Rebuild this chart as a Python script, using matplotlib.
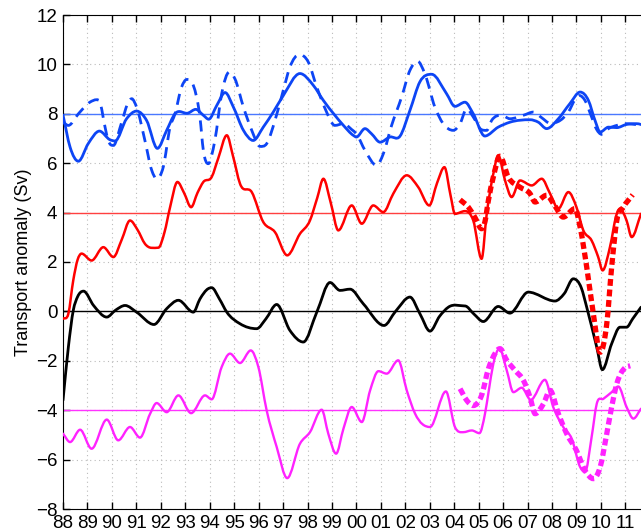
import matplotlib
matplotlib.use("Agg")
import matplotlib.pyplot as plt
from matplotlib.path import Path
from matplotlib.patches import PathPatch

plt.rcParams['font.family'] = ['Liberation Sans', 'DejaVu Sans']

# x in years since 1900
blue_x = [88.0, 88.29, 88.63, 89.03, 89.49, 89.92, 90.13, 90.6, 91.01, 91.42, 91.86, 92.24, 92.58, 93.12,
          93.43, 93.74, 93.96, 94.29, 94.63, 94.97, 95.38, 95.78, 96.19, 96.6, 97.01, 97.69, 98.24, 98.65,
          99.12, 99.47, 99.87, 100.0, 100.35, 100.62, 100.97, 101.37, 101.78, 102.19, 102.6, 103.08, 103.69,
          104.03, 104.44, 104.78, 105.25, 105.8, 106.28, 107.1, 107.44, 107.78, 108.26, 108.73, 109.15,
          109.49, 109.76, 109.97, 110.31, 110.65, 111.05, 111.46, 111.8]
blue_y = [7.95, 6.65, 6.08, 6.79, 7.30, 6.95, 6.9, 7.80, 8.11, 7.73, 6.60, 7.33, 8.0, 8.03,
          8.18, 7.94, 7.78, 8.34, 8.86, 8.27, 7.33, 6.92, 7.46, 8.07, 8.74, 9.63, 9.15, 8.54,
          7.94, 7.53, 7.13, 7.06, 7.40, 7.19, 6.85, 7.06, 7.09, 8.14, 9.3, 9.60, 8.81,
          8.30, 8.47, 8.0, 7.1, 7.46, 7.66, 7.76, 7.66, 7.40, 7.80, 8.41, 8.88,
          8.54, 7.73, 7.26, 7.46, 7.44, 7.57, 7.6, 7.52]

blue_dash_x = [88.0, 88.22, 88.63, 89.1, 89.37, 89.51, 89.72, 89.85, 90.06, 90.4, 90.67, 90.81, 91.01,
               91.35, 91.63, 91.83, 92.1, 92.38, 92.58, 92.85, 93.06, 93.33, 93.6, 93.74, 93.94, 94.21,
               94.49, 94.8, 95.03, 95.38, 95.72, 96.06, 96.33, 96.67, 97.01, 97.28, 97.67, 98.03, 98.38,
               98.72, 99.12, 99.47, 99.81, 100.0, 100.35, 100.83, 101.1, 101.44, 101.85, 102.19, 102.5,
               102.8, 103.21, 103.55, 103.96, 104.24, 104.51, 104.78, 105.06, 105.33, 105.53, 105.94,
               106.28, 106.83, 107.24, 107.58, 107.92, 108.33, 108.67, 108.94, 109.12, 109.35, 109.62,
               109.83, 110.03, 110.31, 110.65, 111.05, 111.46, 111.8]
blue_dash_y = [7.66, 7.53, 8.0, 8.47, 8.57, 8.47, 7.46, 6.92, 6.72, 7.66, 8.47, 8.61, 8.27,
               6.92, 5.71, 5.37, 5.84, 7.46, 8.0, 9.08, 9.39, 9.15, 7.87, 6.52, 5.98, 6.92,
               8.81, 9.69, 9.42, 8.27, 7.33, 6.68, 6.79, 7.73, 8.95, 9.89, 10.40, 10.1, 9.08,
               8.21, 7.53, 7.6, 7.36, 7.19, 6.52, 5.91, 6.38, 7.53, 8.68, 9.76, 10.13,
               9.62, 8.27, 7.60, 7.33, 7.60, 8.2, 7.87, 7.40, 7.33, 7.73, 7.94,
               7.80, 7.94, 8.07, 7.84, 7.62, 7.73, 8.07, 8.57, 8.74, 8.54, 7.87,
               7.36, 7.17, 7.40, 7.53, 7.60, 7.56, 7.52]

red_x = [88.0, 88.22, 88.42, 88.6, 88.76, 89.17, 89.65, 90.06, 90.4, 90.74, 91.05, 91.35, 91.9, 92.15,
         92.38, 92.68, 92.95, 93.24, 93.5, 93.74, 94.08, 94.35, 94.7, 94.95, 95.24, 95.72, 96.19, 96.67,
         97.17, 97.69, 98.1, 98.4, 98.65, 98.95, 99.26, 99.81, 100.22, 100.69, 101.1, 101.51, 102.06,
         102.53, 102.98, 103.3, 103.6, 103.85, 104.03, 104.44, 104.78, 105.12, 105.33, 105.6, 105.8,
         106.08, 106.35, 106.69, 107.17, 107.58, 107.92, 108.26, 108.67, 109.0, 109.28, 109.62, 109.89,
         110.07, 110.37, 110.65, 110.78, 111.05, 111.26, 111.64]
red_y = [-0.30, -0.09, 1.26, 2.1, 2.34, 2.06, 2.60, 2.20, 2.9, 3.68, 3.3, 2.74, 2.58, 3.2,
         4.22, 5.24, 4.8, 4.22, 4.8, 5.24, 5.44, 6.2, 7.13, 6.3, 5.17, 4.83, 3.62, 3.21,
         2.27, 3.14, 3.68, 4.6, 5.37, 4.4, 3.28, 4.29, 3.55, 4.29, 4.02, 4.77, 5.51,
         5.03, 4.29, 5.2, 5.84, 4.7, 3.95, 4.06, 3.68, 2.13, 3.95, 5.57, 6.32,
         5.30, 4.63, 5.30, 5.10, 5.37, 4.77, 4.16, 4.83, 4.22, 3.28, 2.87, 2.2,
         1.66, 2.6, 3.95, 4.16, 3.68, 3.01, 3.95]

red_dot_x = [104.24, 104.58, 104.85, 105.12, 105.25, 105.4, 105.6, 105.87, 106.21, 106.69, 107.1, 107.31,
             107.78, 108.1, 108.46, 108.94, 109.15, 109.42, 109.69, 109.97, 110.24, 110.44, 110.65,
             110.92, 111.3]
red_dot_y = [4.52, 4.22, 3.8, 3.35, 3.6, 4.5, 5.44, 6.28, 5.44, 5.03, 4.77, 4.43,
             4.70, 4.3, 3.82, 4.16, 3.41, 1.79, -0.09, -1.65, -0.5, 1.79, 3.68,
             4.22, 4.72]

black_x = [88.0, 88.22, 88.42, 88.6, 88.84, 89.25, 89.79, 90.15, 90.54, 91.01, 91.72, 92.24, 92.72, 93.33,
           93.6, 93.94, 94.08, 94.4, 94.7, 95.24, 95.92, 96.3, 96.74, 97.28, 97.83, 98.38, 98.92, 99.33,
           99.74, 100.28, 101.13, 101.6, 102.19, 102.6, 103.01, 103.4, 103.76, 104.44, 104.8, 105.19,
           105.8, 106.28, 107.03, 108.12, 108.5, 108.87, 109.2, 109.42, 109.83, 110.06, 110.44, 110.78,
           111.05, 111.3, 111.64]
black_y = [-3.60, -1.44, 0.04, 0.6, 0.82, 0.24, -0.23, 0.05, 0.24, -0.03, -0.53, 0.11, 0.45, -0.03,
           0.5, 0.92, 0.96, 0.5, -0.03, -0.50, -0.70, -0.3, 0.28, -0.77, -1.24, -0.03, 1.17, 0.85,
           0.90, 0.31, -0.57, 0.0, 0.58, -0.1, -0.80, -0.2, 0.17, 0.22, -0.1, -0.41,
           0.20, -0.07, 0.78, 0.42, 0.72, 1.32, 0.95, 0.17, -1.45, -2.36, -1.31, -0.64,
           -0.64, -0.3, 0.17]

mag_x = [88.0, 88.29, 88.7, 89.17, 89.79, 90.26, 90.74, 91.15, 91.56, 91.83, 92.24, 92.72, 93.24, 93.81,
         94.08, 94.49, 94.83, 95.24, 95.68, 95.99, 96.33, 96.74, 97.17, 97.69, 98.1, 98.58, 98.85, 99.17,
         99.47, 99.81, 100.22, 100.56, 100.9, 101.24, 101.71, 102.06, 102.4, 103.01, 103.66, 104.03,
         104.37, 104.72, 105.03, 105.26, 105.4, 105.6, 105.85, 106.15, 106.42, 106.76, 107.13, 107.71,
         108.05, 108.46, 108.81, 109.15, 109.35, 109.62, 109.83, 110.1, 110.44, 110.71, 111.05, 111.33,
         111.64]
mag_y = [-4.95, -5.29, -4.79, -5.56, -4.38, -5.22, -4.68, -5.11, -4.15, -3.71, -4.08, -3.40, -4.12, -3.40,
         -3.56, -2.25, -1.71, -2.09, -1.58, -2.25, -4.01, -5.49, -6.75, -5.36, -4.89, -3.98, -4.95, -5.76,
         -4.75, -3.87, -4.48, -3.20, -2.42, -2.52, -1.98, -3.20, -4.14, -4.68, -3.24, -4.68,
         -4.89, -4.82, -4.93, -4.14, -3.3, -2.12, -1.51, -2.39, -3.27, -3.09, -3.58, -2.77,
         -3.87, -4.68, -5.16, -6.30, -6.51, -5.09, -3.74, -3.54, -3.27, -3.04, -3.87, -4.34,
         -3.94]

mag_dot_x = [104.24, 104.51, 104.78, 105.12, 105.4, 105.53, 105.87, 106.15, 106.5, 106.83, 107.1, 107.31,
             107.65, 107.92, 108.26, 108.6, 109.0, 109.35, 109.69, 109.97, 110.24, 110.44, 110.65,
             110.99, 111.2]
mag_dot_y = [-3.13, -3.60, -3.81, -3.40, -2.32, -1.98, -1.51, -1.98, -2.4, -2.79, -3.47, -4.14,
             -3.74, -3.20, -4.14, -4.95, -5.63, -6.44, -6.77, -6.30, -4.95, -3.87, -2.93,
             -2.28, -2.2]

ref_levels = [8, 4, 0, -4]
year_ticks = list(range(88, 112))
year_labels = ['%02d' % (y % 100) for y in year_ticks]
y_ticks = list(range(-8, 13, 2))

BLUE = '#0d45f5'
RED = '#ff0000'
MAG = '#ff22ff'


def smooth_curve(ax, xs, ys, **kw):
    """Draw a curve through the points as a smooth cubic Bezier path."""
    n = len(xs)
    h = [xs[i + 1] - xs[i] for i in range(n - 1)]
    d = [(ys[i + 1] - ys[i]) / h[i] for i in range(n - 1)]
    m = [0.0] * n
    m[0] = d[0]
    m[-1] = d[-1]
    for i in range(1, n - 1):
        if d[i - 1] * d[i] <= 0:
            m[i] = 0.0
        else:
            m[i] = (d[i - 1] * h[i] + d[i] * h[i - 1]) / (h[i - 1] + h[i])
    verts = [(xs[0], ys[0])]
    codes = [Path.MOVETO]
    for i in range(n - 1):
        verts.append((xs[i] + h[i] / 3, ys[i] + m[i] * h[i] / 3))
        verts.append((xs[i + 1] - h[i] / 3, ys[i + 1] - m[i + 1] * h[i] / 3))
        verts.append((xs[i + 1], ys[i + 1]))
        codes += [Path.CURVE4] * 3
    patch = PathPatch(Path(verts, codes), fill=False, **kw)
    ax.add_patch(patch)
    return patch


fig = plt.figure(figsize=(6.41, 5.31), dpi=100)
ax = fig.add_axes([63 / 641, 22 / 531, 582 / 641, 494 / 531])

ref_colors = ['#4a78ff', '#ff4040', '#000000', '#ff33ff']
for lvl, c in zip(ref_levels, ref_colors):
    ax.axhline(lvl, color=c, lw=1.0, zorder=2)

smooth_curve(ax, black_x, black_y, edgecolor='black', lw=2.0, zorder=3, capstyle='round', joinstyle='round')
smooth_curve(ax, mag_x, mag_y, edgecolor=MAG, lw=1.7, zorder=3, capstyle='round', joinstyle='round')
smooth_curve(ax, mag_dot_x, mag_dot_y, edgecolor=MAG, lw=3.8, ls=(0, (1.3, 0.7)), zorder=4)
smooth_curve(ax, red_x, red_y, edgecolor=RED, lw=1.8, zorder=3, capstyle='round', joinstyle='round')
smooth_curve(ax, red_dot_x, red_dot_y, edgecolor=RED, lw=3.8, ls=(0, (1.3, 0.7)), zorder=4)
smooth_curve(ax, blue_x, blue_y, edgecolor=BLUE, lw=2.0, zorder=3, capstyle='round', joinstyle='round')
smooth_curve(ax, blue_dash_x, blue_dash_y, edgecolor=BLUE, lw=2.0, ls=(0, (4, 2.6)), zorder=4)

ax.set_xlim(88, 88 + 582 / 24.45)
ax.set_ylim(-8, 12)
ax.set_xticks(year_ticks)
ax.set_xticklabels(year_labels)
ax.set_yticks(y_ticks)
ax.tick_params(direction='in', length=5, width=1, labelsize=13.5, top=True, right=False, pad=4)
ax.spines['right'].set_visible(False)
ax.grid(True, ls=(0, (1, 3)), color='#bbbbbb', lw=0.8)
ax.set_ylabel('Transport anomaly (Sv)', fontsize=13)
ax.yaxis.set_label_coords(-0.053, 0.5)

fig.savefig('out.png', dpi=100)
